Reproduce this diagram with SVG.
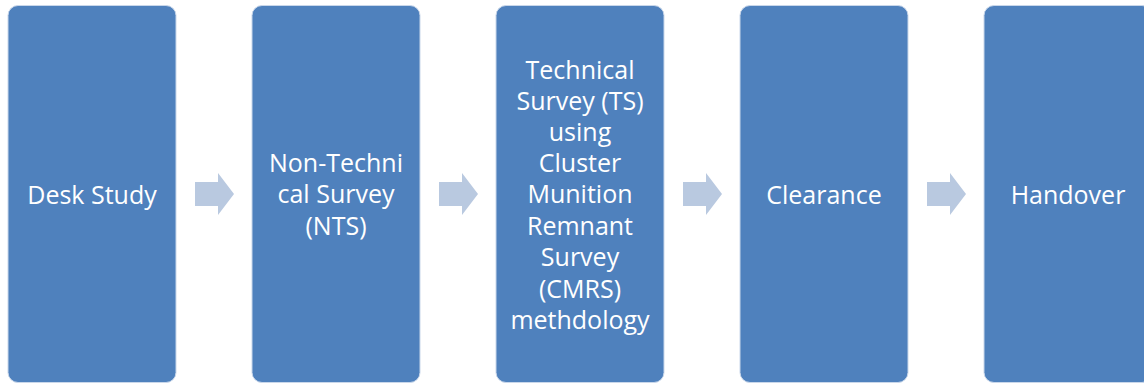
<svg xmlns="http://www.w3.org/2000/svg" width="1144" height="383" viewBox="0 0 1144 383">
<defs>
<style>
.box{fill:#4F81BD;stroke:#C9D7EA;stroke-width:1}
.arr{fill:#B9C9E0}
.t{font-family:"Open Sans","Liberation Sans",sans-serif;font-size:25px;fill:#FFFFFF;text-anchor:middle}
</style>
<path id="arrow" d="M0,9 H23 V0 L39,21 L23,42 V33 H0 Z"/>
</defs>
<g id="connectors">
<use href="#arrow" class="arr" x="195" y="173"/>
<use href="#arrow" class="arr" x="439" y="173"/>
<use href="#arrow" class="arr" x="683" y="173"/>
<use href="#arrow" class="arr" x="927" y="173"/>
</g>
<g id="desk-study">
<rect class="box" x="8" y="5.5" width="168" height="377" rx="10"/>
<text class="t" x="92" y="204">Desk Study</text>
</g>
<g id="nts">
<rect class="box" x="252" y="5.5" width="168" height="377" rx="10"/>
<text class="t" x="336" y="172">Non-Techni</text>
<text class="t" x="336" y="203">cal Survey</text>
<text class="t" x="336" y="235">(NTS)</text>
</g>
<g id="ts">
<rect class="box" x="496" y="5.5" width="168" height="377" rx="10"/>
<text class="t" x="580" y="79">Technical</text>
<text class="t" x="580" y="110">Survey (TS)</text>
<text class="t" x="580" y="141">using</text>
<text class="t" x="580" y="172">Cluster</text>
<text class="t" x="580" y="203">Munition</text>
<text class="t" x="580" y="235">Remnant</text>
<text class="t" x="580" y="266">Survey</text>
<text class="t" x="580" y="298">(CMRS)</text>
<text class="t" x="580" y="329">methdology</text>
</g>
<g id="clearance">
<rect class="box" x="740" y="5.5" width="168" height="377" rx="10"/>
<text class="t" x="824" y="204">Clearance</text>
</g>
<g id="handover">
<rect class="box" x="984" y="5.5" width="168" height="377" rx="10"/>
<text class="t" x="1068" y="204">Handover</text>
</g>
</svg>
